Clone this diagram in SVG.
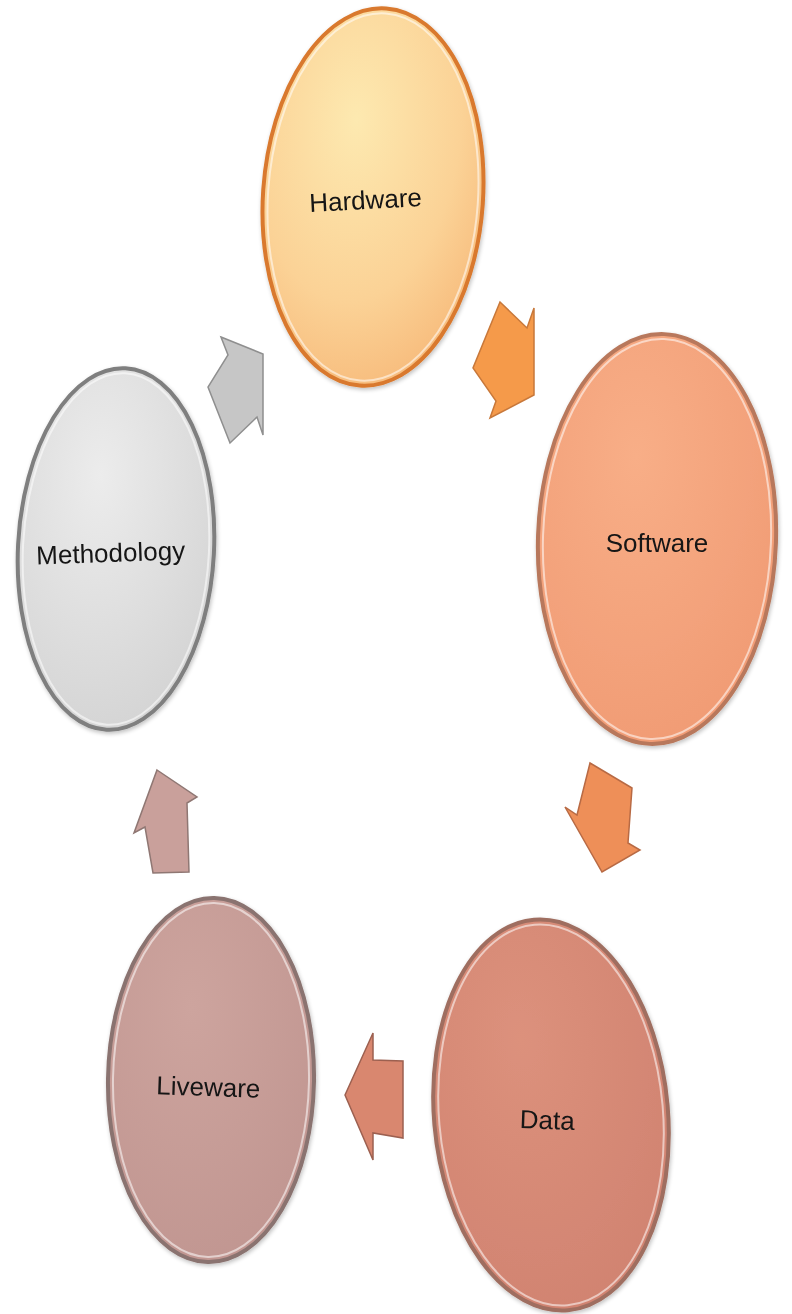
<svg xmlns="http://www.w3.org/2000/svg" width="792" height="1314" viewBox="0 0 792 1314">
  <defs>
    <radialGradient id="gHw" cx="0.4" cy="0.3" r="0.8">
      <stop offset="0" stop-color="#fde9b0"/>
      <stop offset="0.6" stop-color="#fbd296"/>
      <stop offset="1" stop-color="#f6b676"/>
    </radialGradient>
    <radialGradient id="gSw" cx="0.4" cy="0.3" r="0.8">
      <stop offset="0" stop-color="#f8ae87"/>
      <stop offset="1" stop-color="#f09a73"/>
    </radialGradient>
    <radialGradient id="gDa" cx="0.4" cy="0.3" r="0.8">
      <stop offset="0" stop-color="#dc917c"/>
      <stop offset="1" stop-color="#d08270"/>
    </radialGradient>
    <radialGradient id="gLw" cx="0.4" cy="0.3" r="0.8">
      <stop offset="0" stop-color="#cda49e"/>
      <stop offset="1" stop-color="#c09590"/>
    </radialGradient>
    <radialGradient id="gMe" cx="0.4" cy="0.3" r="0.8">
      <stop offset="0" stop-color="#ececec"/>
      <stop offset="1" stop-color="#d2d2d2"/>
    </radialGradient>
    <filter id="sh" x="-10%" y="-10%" width="120%" height="120%">
      <feGaussianBlur in="SourceAlpha" stdDeviation="2"/>
      <feOffset dx="1" dy="2" result="b"/>
      <feComponentTransfer><feFuncA type="linear" slope="0.25"/></feComponentTransfer>
      <feMerge><feMergeNode/><feMergeNode in="SourceGraphic"/></feMerge>
    </filter>
  </defs>
  <style>
    .lbl { font-family: "Liberation Sans", Arial, sans-serif; font-size: 26px; fill: #141414; text-anchor: middle; }
    .hi { fill: none; stroke: #ffffff; stroke-opacity: 0.55; stroke-width: 2; }
    .arr { stroke-width: 1.5; stroke-linejoin: miter; }
  </style>
  <rect width="792" height="1314" fill="#ffffff"/>

  <g id="connectors">
    <polygon class="arr" points="221,337 263,354 263,435 257,417 230,443 208,387 228,355" fill="#c6c6c6" stroke="#8f8f8f"/>
    <polygon class="arr" points="500,302 527,328 534,308 534,395 490,418 496,401 473,368" fill="#f59a4a" stroke="#c8783a"/>
    <polygon class="arr" points="590,763 632,788 628,843 640,850 602,872 565,807 577,815" fill="#ee8f58" stroke="#b86a44"/>
    <polygon class="arr" points="345,1095 373,1033 373,1060 403,1061 403,1138 373,1133 373,1160" fill="#d9876f" stroke="#9c6050"/>
    <polygon class="arr" points="157,770 197,797 187,803 189,872 153,873 145,827 134,833" fill="#c9a09b" stroke="#8f7773"/>
  </g>

  <g id="hardware" filter="url(#sh)">
    <ellipse cx="373" cy="197" rx="110" ry="189" transform="rotate(4 373 197)" fill="url(#gHw)" stroke="#d9792e" stroke-width="4"/>
    <ellipse class="hi" cx="373" cy="197" rx="105" ry="184" transform="rotate(4 373 197)"/>
    <text class="lbl" x="366" y="209" transform="rotate(-3 366 209)">Hardware</text>
  </g>

  <g id="software" filter="url(#sh)">
    <ellipse cx="657" cy="539" rx="119" ry="205" transform="rotate(2 657 539)" fill="url(#gSw)" stroke="#b8785c" stroke-width="4"/>
    <ellipse class="hi" cx="657" cy="539" rx="114" ry="200" transform="rotate(2 657 539)"/>
    <text class="lbl" x="657" y="552">Software</text>
  </g>

  <g id="data" filter="url(#sh)">
    <ellipse cx="551" cy="1115" rx="117" ry="196" transform="rotate(-5 551 1115)" fill="url(#gDa)" stroke="#9f6e60" stroke-width="4"/>
    <ellipse class="hi" cx="551" cy="1115" rx="112" ry="191" transform="rotate(-5 551 1115)"/>
    <text class="lbl" x="547" y="1129" transform="rotate(2 547 1129)">Data</text>
  </g>

  <g id="liveware" filter="url(#sh)">
    <ellipse cx="211" cy="1080" rx="103" ry="182" transform="rotate(1 211 1080)" fill="url(#gLw)" stroke="#8a7370" stroke-width="4"/>
    <ellipse class="hi" cx="211" cy="1080" rx="98" ry="177" transform="rotate(1 211 1080)"/>
    <text class="lbl" x="208" y="1096" transform="rotate(2 208 1096)">Liveware</text>
  </g>

  <g id="methodology" filter="url(#sh)">
    <ellipse cx="116" cy="549" rx="98" ry="181" transform="rotate(3 116 549)" fill="url(#gMe)" stroke="#7f7f7f" stroke-width="4"/>
    <ellipse class="hi" cx="116" cy="549" rx="93" ry="176" transform="rotate(3 116 549)"/>
    <text class="lbl" x="111" y="562" transform="rotate(-2 111 562)">Methodology</text>
  </g>
</svg>
